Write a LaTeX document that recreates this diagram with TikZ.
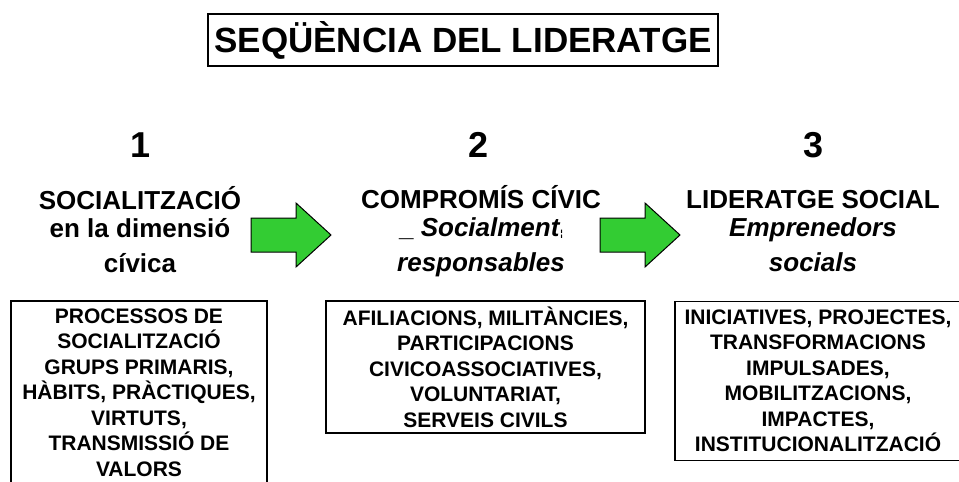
\documentclass[tikz,border=0pt]{standalone}
\usepackage{fontspec}
\setmainfont{Liberation Sans}
\usetikzlibrary{positioning}
\definecolor{arrowgreen}{RGB}{51,204,51}
\tikzset{
  blockarrow/.style={draw=black,line width=1pt,fill=arrowgreen},
}
\begin{document}
\begin{tikzpicture}[x=1pt,y=-1pt]
        \useasboundingbox (0,0) rectangle (959,482);
        \node[draw,line width=1.2pt,minimum width=510pt,minimum height=52pt,
              font=\fontsize{35}{40}\selectfont\bfseries] (title) at (463,40) {SEQÜÈNCIA DEL LIDERATGE};
        \begin{scope}[every node/.style={font=\fontsize{36}{40}\selectfont\bfseries}]
          \node (n1) at (141,145) {1};
          \node (n2) at (479,145) {2};
          \node (n3) at (814,145) {3};
        \end{scope}
        \begin{scope}[every node/.style={anchor=base,align=center,inner sep=0pt,
              font=\fontsize{26}{28.5}\selectfont\bfseries}]
          \node (h1) at (140,272) {SOCIALITZACIÓ\\en la dimensió\\[6pt]cívica};
          \node (h2) at (481,271) {COMPROMÍS CÍVIC\\\_ \textit{Socialment}{\fontsize{9}{9}\selectfont ¦}\\[6pt]\textit{responsables}};
          \node (h3) at (813,271) {LIDERATGE SOCIAL\\\textit{Emprenedors}\\[6pt]\textit{socials}};
        \end{scope}
        \draw[blockarrow] (251,218) -- (296,218) -- (296,203) -- (331,235) -- (296,267) -- (296,252) -- (251,252) -- cycle;
        \draw[blockarrow] (600,218) -- (645,218) -- (645,203) -- (680,235) -- (645,267) -- (645,252) -- (600,252) -- cycle;
        \begin{scope}[every node/.style={draw,line width=1.2pt,align=center,
              font=\fontsize{21}{25.5}\selectfont\bfseries}]
          \node[minimum width=256pt,minimum height=183pt] (list1) at (139,392.5)
            {PROCESSOS DE\\SOCIALITZACIÓ\\GRUPS PRIMARIS,\\HÀBITS, PRÀCTIQUES,\\VIRTUTS,\\TRANSMISSIÓ DE\\VALORS};
          \node[minimum width=319pt,minimum height=132pt] (list2) at (485.5,367)
            {AFILIACIONS, MILITÀNCIES,\\PARTICIPACIONS\\CIVICOASSOCIATIVES,\\VOLUNTARIAT,\\SERVEIS CIVILS};
          \node[minimum width=286pt,minimum height=159pt] (list3) at (818,381)
            {INICIATIVES, PROJECTES,\\TRANSFORMACIONS\\IMPULSADES,\\MOBILITZACIONS,\\IMPACTES,\\INSTITUCIONALITZACIÓ};
        \end{scope}
      \end{tikzpicture}
\end{document}
